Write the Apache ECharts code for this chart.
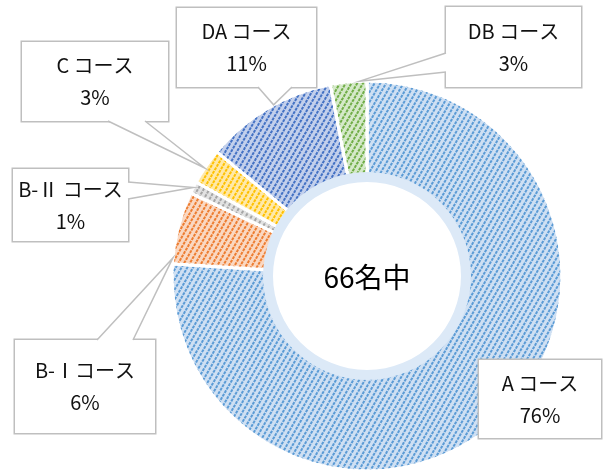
<!DOCTYPE html>
<html><head><meta charset="utf-8">
<script src="https://cdn.jsdelivr.net/npm/echarts@6/dist/echarts.min.js"></script>
<style>html,body{margin:0;padding:0;background:#fff}#c{width:603px;height:470px}</style>
</head><body><div id="c"></div>
<script>
// ---- data ----
const categories = ['A コース', 'B-Ⅰコース', 'B-Ⅱ コース', 'C コース', 'DA コース', 'DB コース'];
const shares = [76, 6, 1, 3, 11, 3];
const centerLabel = '66名中';

// ---- styles ----
const baseColors = ['#cfe0f3', '#fad8c2', '#e2e2e2', '#ffe9a8', '#c3d0ec', '#d5e9c9'];
const lineColors = ['#5b9bd5', '#ed7d31', '#a5a5a5', '#ffc000', '#4472c4', '#70ad47'];
const FONT = '"Noto Sans CJK JP", "Noto Sans", sans-serif';

// ---- callout layout (boxes: x1,y1,x2,y2) ----
const boxes = [
  [479, 360, 601, 438],
  [15, 340, 155, 433],
  [13, 169, 128, 241],
  [22, 42, 168, 121],
  [177, 8, 316, 87],
  [446, 7, 581, 87]
];
const wedges = [
  null,
  { side: 'top', a: 97, b: 133, f: 0.08 },
  { side: 'right', a: 182, b: 199, f: 0.5 },
  { side: 'bottom', a: 108, b: 145, f: 0.45 },
  { side: 'bottom', a: 258, b: 292, f: 0.55 },
  { side: 'left', a: 53, b: 72, f: 0.8 }
];
const CX = 367, CY = 276, R_OUT = 195, R_IN = 101, R_HOLE = 94;
const LINE_H = 32;

const chart = echarts.init(document.getElementById('c'), null, { renderer: 'canvas' });

const pieData = categories.map((name, i) => {
  const b = boxes[i];
  const W = b[2] - b[0], H = b[3] - b[1];
  const pv = (H - 2 * LINE_H) / 2;
  return {
    name: name,
    value: shares[i],
    itemStyle: {
      color: baseColors[i],
      decal: {
        symbol: 'rect',
        symbolSize: 1,
        color: lineColors[i],
        dashArrayX: [[3, 1]],
        dashArrayY: [1.8, 2.5],
        rotation: -Math.PI / 3
      }
    },
    label: {
      width: W,
      padding: [pv + 2, 0, pv - 2, 0]
    }
  };
});

const option = {
  animation: false,
  textStyle: { fontFamily: FONT },
  series: [
    {
      type: 'pie',
      center: [CX, CY],
      radius: [R_IN, R_OUT],
      startAngle: 90,
      clockwise: true,
      percentPrecision: 0,
      avoidLabelOverlap: false,
      itemStyle: { borderColor: '#ffffff', borderWidth: 3 },
      label: {
        show: true,
        position: 'outside',
        formatter: '{b}\n{d}%',
        fontFamily: FONT,
        fontSize: 20,
        lineHeight: LINE_H,
        color: '#111111',
        backgroundColor: '#ffffff',
        borderColor: '#bfbfbf',
        borderWidth: 1.5,
        align: 'center'
      },
      labelLine: { show: false },
      labelLayout: function (params) {
        const b = boxes[params.dataIndex];
        return {
          x: (b[0] + b[2]) / 2,
          y: (b[1] + b[3]) / 2,
          align: 'center',
          verticalAlign: 'middle'
        };
      },
      data: pieData,
      z: 2
    },
    {
      type: 'pie',
      silent: true,
      center: [CX, CY],
      radius: [R_HOLE, R_IN + 3],
      startAngle: 90,
      label: { show: false },
      labelLine: { show: false },
      itemStyle: { color: '#dce9f7', borderWidth: 0 },
      data: [{ value: 1, name: 'ring' }],
      z: 3
    }
  ],
  graphic: [
    {
      type: 'text',
      x: CX,
      y: CY + 1,
      silent: true,
      style: {
        text: centerLabel,
        fontSize: 28,
        fontFamily: FONT,
        fill: '#000000',
        align: 'center',
        verticalAlign: 'middle'
      },
      z: 5
    }
  ]
};
chart.setOption(option);

// callout wedges anchored to the library's computed slice layout
const data = chart.getModel().getSeriesByIndex(0).getData();
const extra = [];
wedges.forEach((w, i) => {
  if (!w) return;
  const L = data.getItemLayout(i);
  const ang = L.startAngle + w.f * (L.endAngle - L.startAngle);
  const tip = [L.cx + L.r * Math.cos(ang), L.cy + L.r * Math.sin(ang)];
  const b = boxes[i];
  let p1, p2, q1, q2;
  if (w.side === 'top') { p1 = [w.a, b[1]]; p2 = [w.b, b[1]]; q1 = [w.a, b[1] + 2]; q2 = [w.b, b[1] + 2]; }
  if (w.side === 'bottom') { p1 = [w.a, b[3]]; p2 = [w.b, b[3]]; q1 = [w.a, b[3] - 2]; q2 = [w.b, b[3] - 2]; }
  if (w.side === 'left') { p1 = [b[0], w.a]; p2 = [b[0], w.b]; q1 = [b[0] + 2, w.a]; q2 = [b[0] + 2, w.b]; }
  if (w.side === 'right') { p1 = [b[2], w.a]; p2 = [b[2], w.b]; q1 = [b[2] - 2, w.a]; q2 = [b[2] - 2, w.b]; }
  extra.push({
    type: 'polygon', silent: true, z: 10,
    shape: { points: [q1, p1, tip, p2, q2] },
    style: { fill: '#ffffff', stroke: null }
  });
  extra.push({
    type: 'polyline', silent: true, z: 11,
    shape: { points: [p1, tip, p2] },
    style: { stroke: '#bfbfbf', lineWidth: 1.5, fill: null }
  });
});
chart.setOption({ graphic: option.graphic.concat(extra) });
</script>
</body></html>
